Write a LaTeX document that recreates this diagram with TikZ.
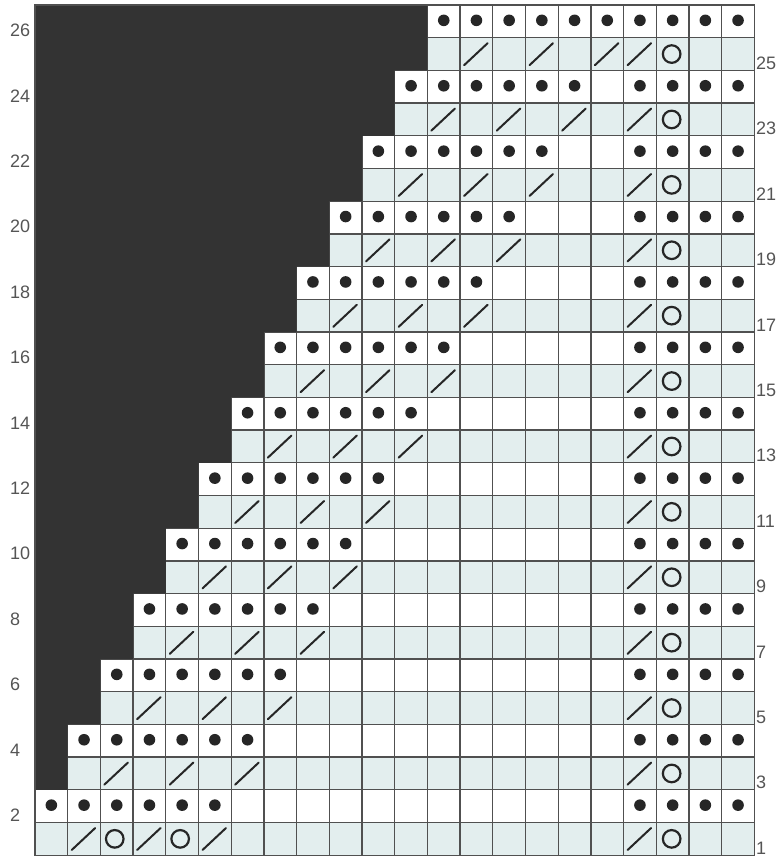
\documentclass[tikz,border=0pt]{standalone}
\usepackage{fontspec}
\setmainfont{Liberation Sans}
\definecolor{cellblue}{HTML}{E3EEEE}
\definecolor{darkfill}{HTML}{333333}
\definecolor{gridc}{HTML}{505050}
\definecolor{labelc}{HTML}{555555}
\definecolor{symc}{HTML}{262626}
\tikzset{
  gridline/.style={draw=gridc, line width=1.3pt},
  knitdot/.style={fill=symc},
  slashline/.style={draw=symc, line width=2pt, line cap=round},
  yoring/.style={draw=symc, line width=2.2pt},
  rowlabel/.style={font=\fontsize{18}{18}\selectfont, text=labelc, inner sep=0pt},
}
\begin{document}
\begin{tikzpicture}[x=1pt,y=-1pt]
\def\s{32.7}\def\xo{35}\def\yo{5}
\useasboundingbox[fill=white] (0,0) rectangle (784,863);
% light rows (odd rows)
\foreach \r in {1,3,...,25} {
  \pgfmathsetmacro\yt{\yo+(26-\r)*\s}
  \fill[cellblue] (\xo,\yt) rectangle ++({22*\s},\s);
}
% grid lines
\foreach \i in {0,...,22} {
  \draw[gridline] ({\xo+\i*\s},\yo) -- ({\xo+\i*\s},{\yo+26*\s});
}
\foreach \j in {0,...,26} {
  \draw[gridline] (\xo,{\yo+\j*\s}) -- ({\xo+22*\s},{\yo+\j*\s});
}
% dark staircase
\fill[darkfill] (\xo,\yo)
  \foreach \k in {13,...,2} {
    -- ({\xo+(\k-1)*\s},{\yo+(26-2*\k)*\s})
    -- ({\xo+(\k-1)*\s},{\yo+(28-2*\k)*\s})
  } -- (\xo,{\yo+24*\s}) -- cycle;
% dots on even rows
\foreach \k in {1,...,13} {
  \pgfmathtruncatemacro\r{2*\k}
  \pgfmathsetmacro\cy{\yo+(26-\r+0.5)*\s-1}
  \foreach \c in {0,...,5} {
    \fill[knitdot] ({\xo+(\k+\c-0.5)*\s},\cy) circle[radius=5.8pt];
  }
  \foreach \c in {19,...,22} {
    \fill[knitdot] ({\xo+(\c-0.5)*\s},\cy) circle[radius=5.8pt];
  }
}
% slashes and yarn-overs on odd rows
\foreach \k in {1,...,13} {
  \pgfmathtruncatemacro\r{2*\k-1}
  \pgfmathsetmacro\yt{\yo+(26-\r)*\s}
  \pgfmathsetmacro\cy{\yt+0.5*\s}
  \foreach \c in {1,3,5} {
    \pgfmathsetmacro\xl{\xo+(\k+\c-1)*\s}
    \draw[slashline] ({\xl+4},{\yt+27.5}) -- ({\xl+27.5},{\yt+5.5});
  }
  \pgfmathsetmacro\xl{\xo+18*\s}
  \draw[slashline] ({\xl+4},{\yt+27.5}) -- ({\xl+27.5},{\yt+5.5});
  \draw[yoring] ({\xo+19.5*\s-1},\cy) circle[radius=8.8pt];
}
\foreach \c in {3,5} {
  \draw[yoring] ({\xo+(\c-0.5)*\s-2},{\yo+25.5*\s}) circle[radius=8.8pt];
}
% outer border
\draw[gridline] (\xo,\yo) rectangle ++({22*\s},{26*\s});
% row labels
\foreach \r in {2,4,...,26} {
  \node[rowlabel, anchor=base west] (L\r) at (10,{\yo+(27-\r)*\s-1}) {\r};
}
\foreach \r in {1,3,...,25} {
  \node[rowlabel, anchor=base west] (R\r) at (756,{\yo+(27-\r)*\s-1}) {\r};
}
\end{tikzpicture}
\end{document}
